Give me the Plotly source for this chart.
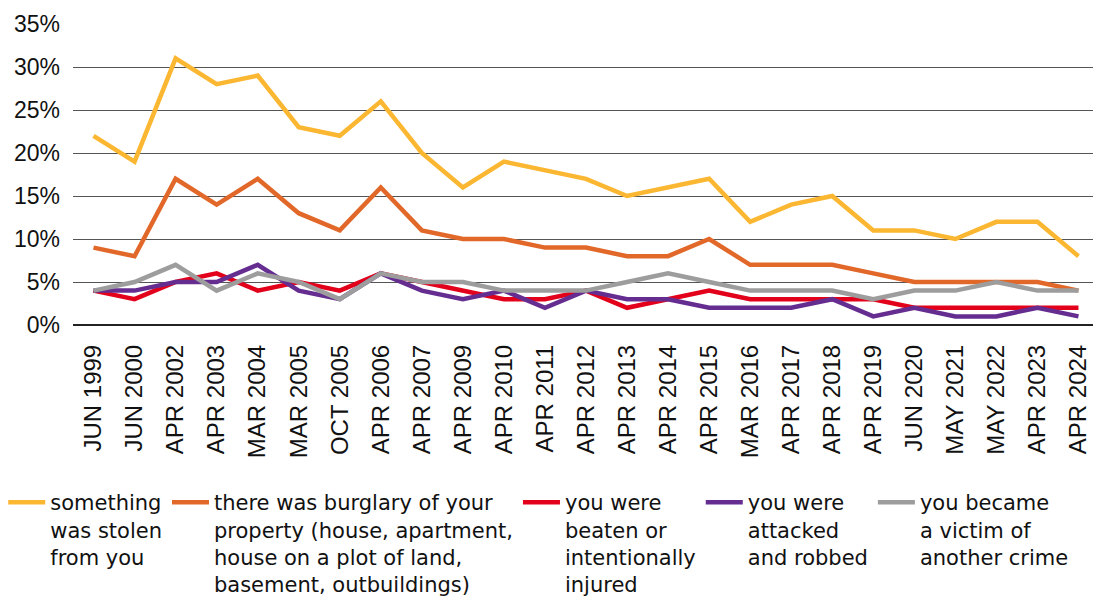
import plotly.graph_objects as go

categories = ["JUN 1999", "JUN 2000", "APR 2002", "APR 2003", "MAR 2004", "MAR 2005",
              "OCT 2005", "APR 2006", "APR 2007", "APR 2009", "APR 2010", "APR 2011",
              "APR 2012", "APR 2013", "APR 2014", "APR 2015", "MAR 2016", "APR 2017",
              "APR 2018", "APR 2019", "JUN 2020", "MAY 2021", "MAY 2022", "APR 2023", "APR 2024"]

stolen = [22, 19, 31, 28, 29, 23, 22, 26, 20, 16, 19, 18, 17, 15, 16, 17, 12, 14, 15, 11, 11, 10, 12, 12, 8]
burglary = [9, 8, 17, 14, 17, 13, 11, 16, 11, 10, 10, 9, 9, 8, 8, 10, 7, 7, 7, 6, 5, 5, 5, 5, 4]
beaten = [4, 3, 5, 6, 4, 5, 4, 6, 5, 4, 3, 3, 4, 2, 3, 4, 3, 3, 3, 3, 2, 2, 2, 2, 2]
robbed = [4, 4, 5, 5, 7, 4, 3, 6, 4, 3, 4, 2, 4, 3, 3, 2, 2, 2, 3, 1, 2, 1, 1, 2, 1]
other = [4, 5, 7, 4, 6, 5, 3, 6, 5, 5, 4, 4, 4, 5, 6, 5, 4, 4, 4, 3, 4, 4, 5, 4, 4]

names = ["something<br>was stolen<br>from you",
         "there was burglary of your<br>property (house, apartment,<br>house on a plot of land,<br>basement, outbuildings)",
         "you were<br>beaten or<br>intentionally<br>injured",
         "you were<br>attacked<br>and robbed",
         "you became<br>a victim of<br>another crime"]
colors = ["#FBB731", "#E2682A", "#E3001B", "#662D91", "#9D9D9D"]
series = [stolen, burglary, beaten, robbed, other]

y_ticks = [0, 5, 10, 15, 20, 25, 30, 35]
y_labels = [f"{v}%" for v in y_ticks]

fig = go.Figure()
for name, vals, col in zip(names, series, colors):
    fig.add_trace(go.Scatter(x=categories, y=vals, name=name, mode="lines",
                             line=dict(color=col, width=4.5)))

# page body has an 8px margin: size/margins compensate so the plot lands where the reference has it
fig.update_layout(
    width=1093, height=589,
    margin=dict(l=65, r=2, t=16, b=272, autoexpand=False),
    paper_bgcolor="white", plot_bgcolor="white",
    font=dict(family="Liberation Sans, Arial, sans-serif", color="#111111"),
    showlegend=True,
    legend=dict(orientation="h", x=-0.068, xanchor="left", y=-0.522, yanchor="top",
                font=dict(size=21, color="#111111", family="DejaVu Sans, sans-serif"),
                valign="top", traceorder="normal", itemwidth=37, tracegroupgap=0),
)
fig.update_xaxes(type="category", range=[-0.5, 24.5], tickangle=-90,
                 tickfont=dict(size=24, color="#111111"), showgrid=False,
                 showline=False, ticks="", ticklen=0, ticklabelstandoff=14)
fig.update_yaxes(range=[0, 35], tickvals=y_ticks, ticktext=y_labels,
                 tickfont=dict(size=23, color="#111111"), showgrid=True,
                 gridcolor="#555555", gridwidth=1, zeroline=True,
                 zerolinecolor="#222222", zerolinewidth=2, ticks="", ticklen=0,
                 ticklabelstandoff=12)

fig.write_html("out.html")
